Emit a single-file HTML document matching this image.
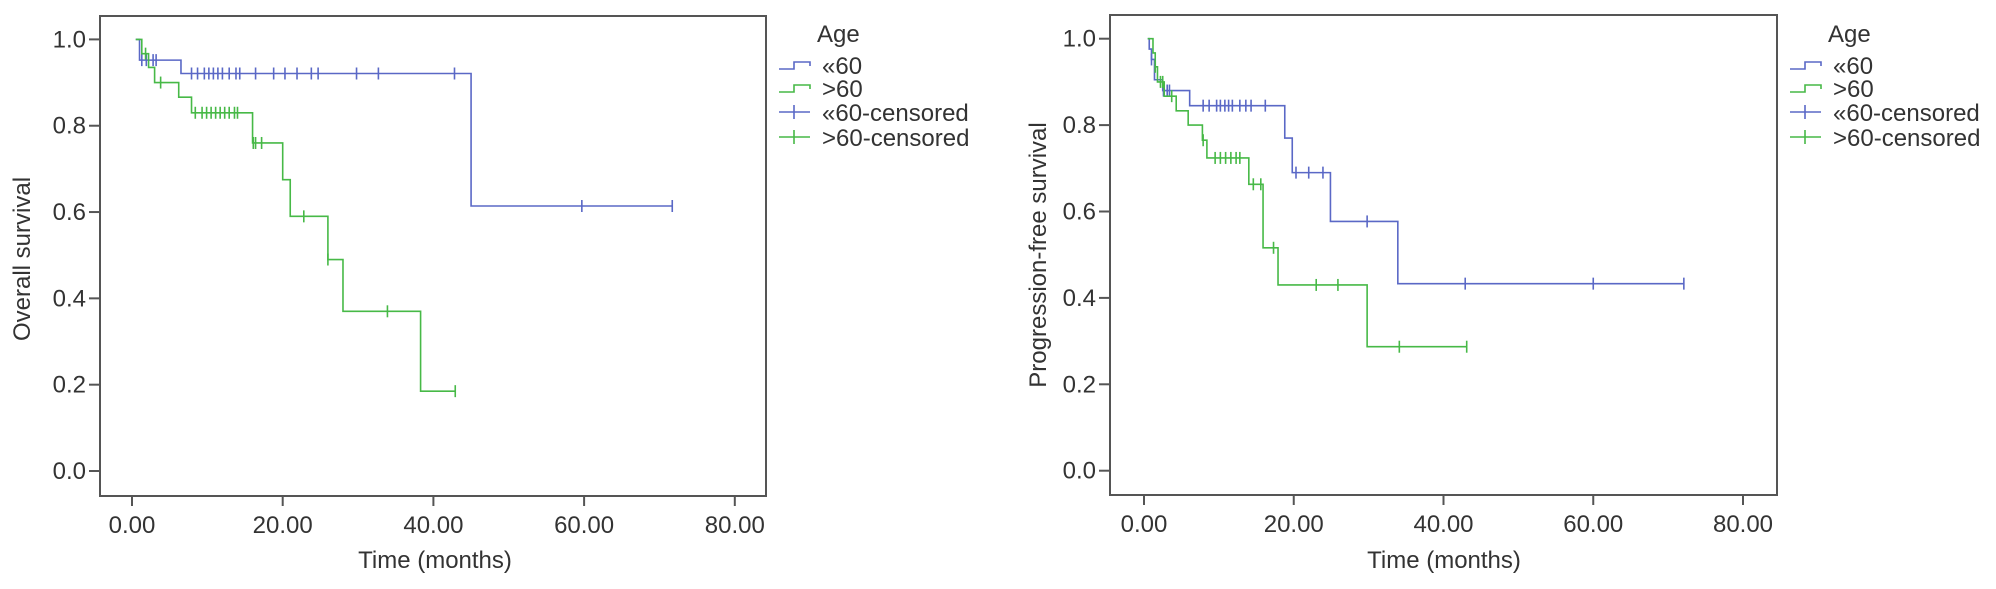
<!DOCTYPE html>
<html><head><meta charset="utf-8"><style>
html,body{margin:0;padding:0;background:#fff;}
svg{display:block;font-family:"Liberation Sans",Arial,sans-serif;}
</style></head><body>
<svg id="chart" width="1996" height="589" viewBox="0 0 1996 589"></svg>
<script>
// ---- Data ----
const xTicks = [0, 20, 40, 60, 80];
const xTickLabels = ["0.00", "20.00", "40.00", "60.00", "80.00"];
const yTicks = [0, 0.2, 0.4, 0.6, 0.8, 1.0];
const yTickLabels = ["0.0", "0.2", "0.4", "0.6", "0.8", "1.0"];
const legendLabels = ["\u00ab60", ">60", "\u00ab60-censored", ">60-censored"];

// Overall survival
const osBlueTimes = [0.5, 1.0, 6.5, 45];
const osBlueSurv = [1.0, 0.952, 0.921, 0.614];
const osBlueEnd = 71.7;
const osBlueCensT = [1.3,1.9,2.8,3.2,7.9,8.7,9.6,10.2,10.8,11.4,12.0,12.9,13.8,14.3,16.4,18.8,20.3,21.9,23.8,24.7,29.8,32.7,42.8,59.7,71.7];
const osGreenTimes = [0.5, 1.3, 2.2, 3.0, 6.2, 7.9, 16.0, 20.0, 21.0, 26.0, 28.0, 38.3];
const osGreenSurv = [1.0, 0.967, 0.935, 0.90, 0.866, 0.83, 0.76, 0.675, 0.59, 0.49, 0.37, 0.185];
const osGreenEnd = 42.9;
const osGreenCensT = [1.8,3.8,8.4,9.3,9.9,10.5,11.1,11.7,12.3,12.9,13.6,14.0,16.1,16.4,17.2,22.8,26.0,33.9,42.9];

// Progression-free survival
const pfsBlueTimes = [0.5, 0.7, 1.0, 1.4, 2.5, 6.1, 18.8, 19.8, 24.9, 33.9];
const pfsBlueSurv = [1.0, 0.976, 0.952, 0.905, 0.88, 0.845, 0.77, 0.69, 0.577, 0.433];
const pfsBlueEnd = 72.1;
const pfsBlueCensT = [1.0,2.6,3.1,3.4,7.9,8.7,9.7,10.2,10.8,11.3,11.8,12.8,13.6,14.3,16.2,20.3,22.0,23.9,29.8,42.9,60.0,72.1];
const pfsGreenTimes = [0.5, 1.2, 1.5, 1.8, 2.7, 4.3, 5.9, 7.8, 8.4, 14.0, 15.9, 17.9, 29.8];
const pfsGreenSurv = [1.0, 0.967, 0.935, 0.90, 0.867, 0.833, 0.80, 0.765, 0.724, 0.663, 0.516, 0.43, 0.287];
const pfsGreenEnd = 43.1;
const pfsGreenCensT = [1.5,2.2,2.5,3.7,7.9,9.5,10.2,10.9,11.6,12.3,12.8,14.6,15.6,17.3,23.0,25.9,34.1,43.1];

const BLUE = "#5a68c6", GREEN = "#47b947", INK = "#333";
const NS = "http://www.w3.org/2000/svg";
const svg = document.getElementById("chart");
function mk(tag, attrs, parent) {
  const e = document.createElementNS(NS, tag);
  for (const k in attrs) e.setAttribute(k, attrs[k]);
  (parent || svg).appendChild(e);
  return e;
}

function survAt(times, surv, t) {
  let s = surv[0];
  for (let i = 0; i < times.length; i++) if (times[i] <= t) s = surv[i];
  return s;
}

function panel(p) {
  const g = mk("g", {});
  
  
  const X = t => p.x0 + (t / 20) * p.px20;
  const Y = v => p.y0 - v * p.py1;
  // frame
  const fr = mk("rect", {x: p.fl, y: p.ft, width: p.fr - p.fl, height: p.fb - p.ft, fill: "none", stroke: "#555", "stroke-width": 2}, g);
  
  
  // y ticks
  yTicks.forEach((v, i) => {
    const tk = mk("line", {x1: p.fl - 11, x2: p.fl, y1: Y(v), y2: Y(v), stroke: "#555", "stroke-width": 2}, g);
    
    
    const t = mk("text", {x: p.fl - 14, y: Y(v) + 8, "text-anchor": "end", "font-size": 24, fill: INK}, g);
    t.textContent = yTickLabels[i];
    
    
  });
  xTicks.forEach((v, i) => {
    const tk = mk("line", {x1: X(v), x2: X(v), y1: p.fb, y2: p.fb + 10, stroke: "#555", "stroke-width": 2}, g);
    
    
    const t = mk("text", {x: X(v), y: p.fb + 37, "text-anchor": "middle", "font-size": 24, fill: INK}, g);
    t.textContent = xTickLabels[i];
    
    
  });
  const xl = mk("text", {x: p.xlX, y: 568, "text-anchor": "middle", "font-size": 24, fill: INK}, g);
  xl.textContent = "Time (months)";
  
  
  const yl = mk("text", {x: 0, y: 0, transform: `translate(${p.ylX},${p.ylY}) rotate(-90)`, "text-anchor": "middle", "font-size": 24, fill: INK}, g);
  yl.textContent = p.ylabel;
  
  

  p.series.forEach(s => {
    let d = `M${X(s.times[0])},${Y(s.surv[0])}`;
    for (let i = 1; i < s.times.length; i++) {
      d += ` H${X(s.times[i])} V${Y(s.surv[i])}`;
    }
    d += ` H${X(s.end)}`;
    const path = mk("path", {d: d, fill: "none", stroke: s.color, "stroke-width": 1.6}, g);
    
    
    s.cens.forEach(t => {
      const yy = Y(survAt(s.times, s.surv, t));
      const m = mk("line", {x1: X(t), x2: X(t), y1: yy - 6, y2: yy + 6, stroke: s.color, "stroke-width": 1.6}, g);
      
      
    });
  });

  // legend
  const lg = mk("g", {}, g);
  
  
  const lx = p.fr + 13;
  const title = mk("text", {x: lx + 38, y: 42, "font-size": 24, fill: INK}, lg);
  title.textContent = "Age";
  
  
  const rows = [65, 88, 112, 137];
  const cols = [BLUE, GREEN, BLUE, GREEN];
  rows.forEach((ry, i) => {
    const e = mk("g", {}, lg);
    
    
    if (i < 2) {
      mk("path", {d: `M${lx},${ry + 4} H${lx + 15} V${ry - 3} H${lx + 31} V${ry + 1}`, fill: "none", stroke: cols[i], "stroke-width": 1.6}, e);
    } else {
      mk("line", {x1: lx, x2: lx + 31, y1: ry, y2: ry, stroke: cols[i], "stroke-width": 1.6}, e);
      mk("line", {x1: lx + 15, x2: lx + 15, y1: ry - 7, y2: ry + 7, stroke: cols[i], "stroke-width": 1.6}, e);
    }
    const t = mk("text", {x: lx + 43, y: ry + 9, "font-size": 24, fill: INK}, e);
    t.textContent = legendLabels[i];
  });
}

panel({
  name: "overall-survival-panel", fl: 100, fr: 766, ft: 16, fb: 496,
  x0: 132, px20: 150.7, y0: 471, py1: 431.6,
  xlX: 435, ylX: 30, ylY: 259, ylabel: "Overall survival",
  series: [
    {name: "os-age-under-60", color: BLUE, times: osBlueTimes, surv: osBlueSurv, end: osBlueEnd, cens: osBlueCensT},
    {name: "os-age-over-60", color: GREEN, times: osGreenTimes, surv: osGreenSurv, end: osGreenEnd, cens: osGreenCensT}
  ]
});
panel({
  name: "progression-free-survival-panel", fl: 1110, fr: 1777, ft: 15, fb: 495,
  x0: 1144, px20: 149.75, y0: 470.7, py1: 432,
  xlX: 1444, ylX: 1046, ylY: 255, ylabel: "Progression-free survival",
  series: [
    {name: "pfs-age-under-60", color: BLUE, times: pfsBlueTimes, surv: pfsBlueSurv, end: pfsBlueEnd, cens: pfsBlueCensT},
    {name: "pfs-age-over-60", color: GREEN, times: pfsGreenTimes, surv: pfsGreenSurv, end: pfsGreenEnd, cens: pfsGreenCensT}
  ]
});
</script>
</body></html>
